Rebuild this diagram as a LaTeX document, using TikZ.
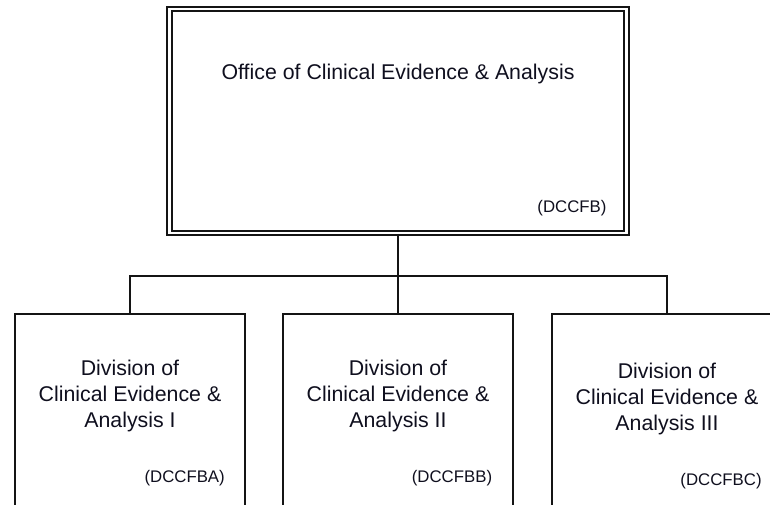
\documentclass[tikz,border=0pt]{standalone}
\usepackage{fontspec}
\setmainfont{Liberation Sans}
\usetikzlibrary{positioning}
\definecolor{orgline}{RGB}{20,20,20}
\definecolor{orgtext}{RGB}{15,15,30}
\tikzset{
  officebox/.style={
    rectangle, draw=orgline, line width=1.4pt, double=white, double distance=2.2pt,
    minimum width=343pt, minimum height=168pt, inner sep=0pt
  },
  divbox/.style={
    rectangle, draw=orgline, line width=1.3pt,
    minimum width=173pt, minimum height=165pt, inner sep=0pt
  },
  nametext/.style={
    align=center, text=orgtext, inner sep=0pt,
    font=\fontsize{16}{19.5}\selectfont
  },
  codetext/.style={
    text=orgtext, inner sep=0pt, font=\fontsize{12.6}{15}\selectfont
  },
  orgedge/.style={draw=orgline, line width=1.3pt}
}
\begin{document}
\begin{tikzpicture}[x=0.75pt,y=-0.75pt]
\useasboundingbox (0,0) rectangle (770,504);
\clip (0,0) rectangle (770,504);

% office on top
\node[officebox] (office) at (398,121) {};
\node[nametext] (officename) at ([yshift=35.25pt]office.center) {Office of Clinical Evidence \& Analysis};
\node[codetext] (officecode) at ([shift={(130.5pt,-65.5pt)}]office.center) {(DCCFB)};

% divisions
\node[divbox] (diva) at (130,424) {};
\node[divbox] (divb) at (398,424) {};
\node[divbox] (divc) at (667,424) {};

\node[nametext] (divaname) at ([yshift=-62.25pt]diva.north) {Division of\\Clinical Evidence \&\\Analysis I};
\node[nametext] (divbname) at ([yshift=-62.25pt]divb.north) {Division of\\Clinical Evidence \&\\Analysis II};
\node[nametext] (divcname) at ([yshift=-64.5pt]divc.north) {Division of\\Clinical Evidence \&\\Analysis III};

\node[codetext] (divacode) at ([shift={(41pt,-124pt)}]diva.north) {(DCCFBA)};
\node[codetext] (divbcode) at ([shift={(40.5pt,-124pt)}]divb.north) {(DCCFBB)};
\node[codetext] (divccode) at ([shift={(40.5pt,-126pt)}]divc.north) {(DCCFBC)};

% connectors
\coordinate (hub) at (398,276);
\draw[orgedge] (office.south) -- (hub);
\foreach \d in {diva,divb,divc}
  \draw[orgedge] (hub) -| (\d.north);
\end{tikzpicture}
\end{document}
